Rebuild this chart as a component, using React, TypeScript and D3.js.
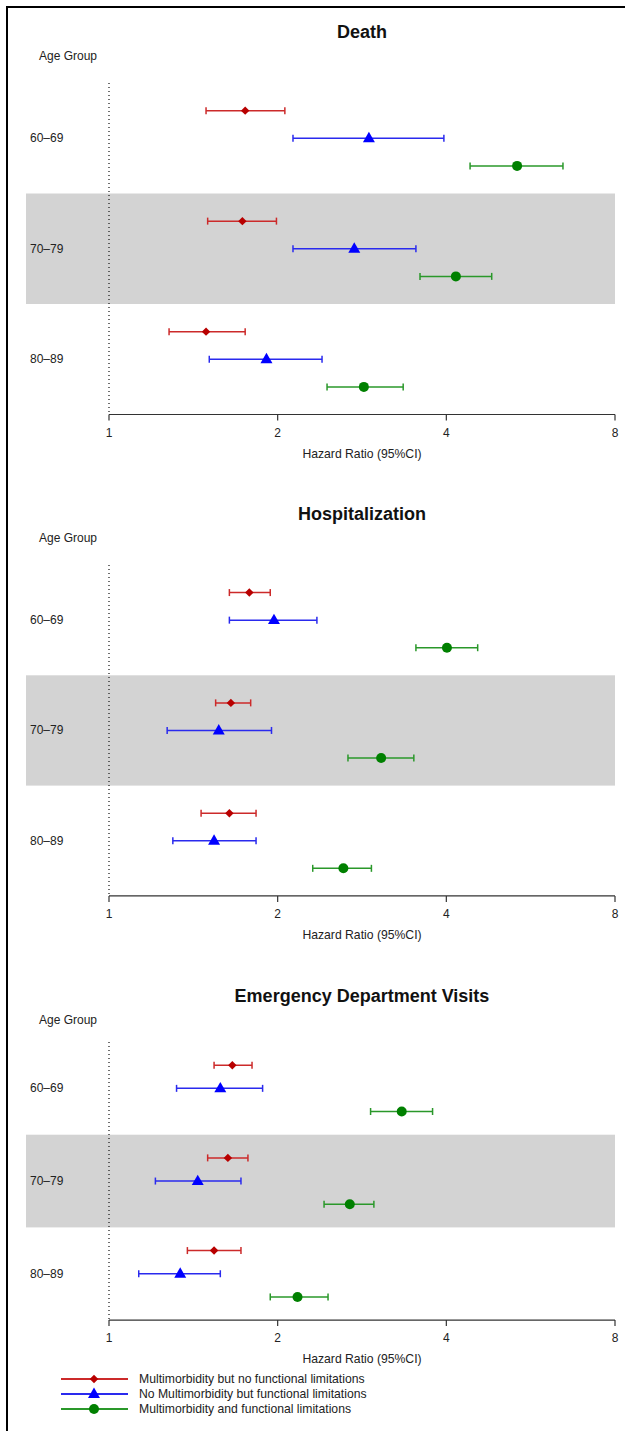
import React from 'react'
import * as d3 from 'd3'

const ageGroups = ['60–69', '70–79', '80–89']
const seriesNames = [
  'Multimorbidity but no functional limitations',
  'No Multimorbidity but functional limitations',
  'Multimorbidity and functional limitations',
]
const xTicks = [1, 2, 4, 8]

// [lower, estimate, upper] per age group, per series
const deathHR = [
  [[1.49, 1.75, 2.06], [2.13, 2.91, 3.96], [4.41, 5.35, 6.46]],
  [[1.5, 1.73, 1.99], [2.13, 2.74, 3.53], [3.59, 4.16, 4.82]],
  [[1.28, 1.49, 1.75], [1.51, 1.91, 2.4], [2.45, 2.85, 3.35]],
]
const hospHR = [
  [[1.64, 1.78, 1.94], [1.64, 1.97, 2.35], [3.53, 4.01, 4.55]],
  [[1.55, 1.65, 1.79], [1.27, 1.57, 1.95], [2.67, 3.06, 3.5]],
  [[1.46, 1.64, 1.83], [1.3, 1.54, 1.83], [2.31, 2.62, 2.94]],
]
const edHR = [
  [[1.54, 1.66, 1.8], [1.32, 1.58, 1.88], [2.93, 3.33, 3.78]],
  [[1.5, 1.63, 1.77], [1.21, 1.44, 1.72], [2.42, 2.69, 2.97]],
  [[1.38, 1.54, 1.72], [1.13, 1.34, 1.58], [1.94, 2.17, 2.46]],
]

const panels = [
  { title: 'Death', data: deathHR, titleY: 32, plotTop: 83, bandH: 110.5 },
  { title: 'Hospitalization', data: hospHR, titleY: 514, plotTop: 565, bandH: 110.3 },
  { title: 'Emergency Department Visits', data: edHR, titleY: 996, plotTop: 1042, bandH: 92.7 },
]

const LINE_COLORS = ['#cc2a2a', '#2a2aee', '#2a982a']
const MARK_COLORS = ['#b80000', '#0000ff', '#008000']
const FONT = 'Liberation Sans, Arial, Helvetica, sans-serif'
const TEXT = '#222'

const x = d3.scaleLog().domain([1, 8]).range([109, 615])

function Marker({ s, cx, cy }) {
  if (s === 2) return <circle cx={cx} cy={cy} r={5} fill={MARK_COLORS[2]} />
  const path = s === 0
    ? d3.symbol(d3.symbolSquare, 36)()
    : d3.symbol(d3.symbolTriangle, 62)()
  return (
    <path
      d={path}
      fill={MARK_COLORS[s]}
      transform={`translate(${cx},${cy + (s === 1 ? 0.5 : 0)}) rotate(${s === 0 ? 45 : 0})`}
    />
  )
}

function Panel({ title, data, titleY, plotTop, bandH }) {
  const y = d3.scaleBand().domain(ageGroups).range([plotTop, plotTop + 3 * bandH])
  const off = d3.scalePoint().domain(seriesNames).range([bandH * 0.25, bandH * 0.75])
  const axisY = plotTop + 3 * bandH

  return (<g>
    <text x={362} y={titleY} textAnchor="middle" dominantBaseline="central"
      fontSize={18} fontWeight="bold" fill="#111">{title}</text>
    <text x={39} y={titleY + 24} dominantBaseline="central" fontSize={12} fill={TEXT}>Age Group</text>

    <rect x={26} y={y(ageGroups[1])} width={615 - 26} height={bandH} fill="#d3d3d3" />

    <line x1={x(1)} x2={x(1)} y1={plotTop} y2={axisY}
      stroke="#111" strokeWidth={1.2} strokeDasharray="1,3" />

    {ageGroups.map((g) => (
      <text key={g} x={30} y={y(g) + bandH / 2} dominantBaseline="central"
        fontSize={12} fill={TEXT}>{g}</text>
    ))}

    {ageGroups.map((g, gi) => seriesNames.map((sn, si) => {
      const [lo, pt, hi] = data[gi][si]
      const cy = y(g) + off(sn)
      return (<g key={g + si}>
        <line x1={x(lo)} x2={x(hi)} y1={cy} y2={cy} stroke={LINE_COLORS[si]} strokeWidth={1.5} />
        <line x1={x(lo)} x2={x(lo)} y1={cy - 3.5} y2={cy + 3.5} stroke={LINE_COLORS[si]} strokeWidth={1.5} />
        <line x1={x(hi)} x2={x(hi)} y1={cy - 3.5} y2={cy + 3.5} stroke={LINE_COLORS[si]} strokeWidth={1.5} />
        <Marker s={si} cx={x(pt)} cy={cy} />
      </g>)
    }))}

    <line x1={x(1)} x2={x(8)} y1={axisY} y2={axisY} stroke="#333" strokeWidth={1.2} />
    {xTicks.map((t) => (<g key={t}>
      <line x1={x(t)} x2={x(t)} y1={axisY} y2={axisY + 6} stroke="#333" strokeWidth={1.2} />
      <text x={x(t)} y={axisY + 18} textAnchor="middle" dominantBaseline="central"
        fontSize={12} fill={TEXT}>{t}</text>
    </g>))}
    <text x={362} y={axisY + 39} textAnchor="middle" dominantBaseline="central"
      fontSize={12.2} fill={TEXT}>Hazard Ratio (95%CI)</text>
  </g>)
}

function Legend({ top }) {
  return (<g>
    {seriesNames.map((sn, si) => {
      const cy = top + si * 15
      return (<g key={sn}>
        <line x1={61} x2={128} y1={cy} y2={cy} stroke={LINE_COLORS[si]} strokeWidth={1.8} />
        <Marker s={si} cx={94} cy={cy} />
        <text x={139} y={cy} dominantBaseline="central" fontSize={12.2} fill={TEXT}>{sn}</text>
      </g>)
    })}
  </g>)
}

export default function App() {
  return (
    <div style={{ position: 'absolute', left: 0, top: 0 }}>
      <svg width={625} height={1431} style={{ display: 'block', fontFamily: FONT }}>
        <rect x={0} y={0} width={625} height={1431} fill="#fff" />
        <rect x={7} y={7} width={640} height={1450} fill="none" stroke="#000" strokeWidth={2} />
        {panels.map((p) => <Panel key={p.title} {...p} />)}
        <Legend top={1379} />
      </svg>
    </div>
  )
}
